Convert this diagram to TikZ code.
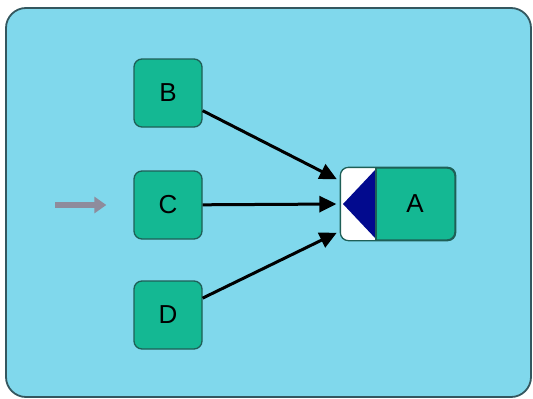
\documentclass[tikz,border=0pt]{standalone}
\usepackage{fontspec}
\setmainfont{Liberation Sans}
\usetikzlibrary{arrows.meta}
\definecolor{panel}{HTML}{80D8EC}
\definecolor{paneledge}{HTML}{34575F}
\definecolor{blockgreen}{HTML}{14B893}
\definecolor{edgegreen}{HTML}{1E5F57}
\definecolor{navy}{HTML}{020A8E}
\definecolor{ingray}{HTML}{8E8C9C}
\begin{document}
\begin{tikzpicture}[x=1pt,y=-1pt,>={Triangle[length=17pt,width=16pt]}]
        \tikzstyle{block}=[rectangle,rounded corners=8pt,draw=edgegreen,line width=1.3pt,fill=blockgreen,minimum width=68pt,minimum height=68pt,font=\fontsize{26}{26}\selectfont]
        \tikzstyle{edge}=[draw,->,line width=3pt,shorten >=4pt]
        \useasboundingbox (0,0) rectangle (533,399);
        % panel
        \draw[paneledge,line width=1.8pt,fill=panel,rounded corners=20pt] (6,8) rectangle (531,397);
       \begin{scope}
         \node [block] (B) at (168,93) {B};
         \node [block] (C) at (168,205) {C};
         \node [block] (D) at (168,315) {D};
         \node [block,minimum width=114pt,minimum height=72pt,label={[font=\fontsize{26}{26}\selectfont,xshift=17pt]center:A}] (A) at (398,204) {};

         % left part of A with the triangle
         \begin{scope}
           \clip[rounded corners=8pt] (A.north west) rectangle (A.south east);
           \fill[white] (A.north west) rectangle (376,240);
           \fill[navy] (343,204) -- (376,169) -- (376,239) -- cycle;
         \end{scope}
         \draw[edgegreen,line width=1.3pt,rounded corners=8pt] (A.north west) rectangle (A.south east);
         \draw[edgegreen,line width=1.3pt] (376,168) -- (376,240);

         \path[edge] (B) -- ([yshift=23pt]A.west);
         \path[edge] (C) -- (A.west);
         \path[edge] (D) -- ([yshift=-27pt]A.west);

         \coordinate (in) at (55,205);
         \draw[ingray,line width=5.5pt,-{Triangle[length=12pt,width=16pt]}] (in) -- ([xshift=-27pt]C.west);
        \end{scope}
      \end{tikzpicture}
\end{document}
